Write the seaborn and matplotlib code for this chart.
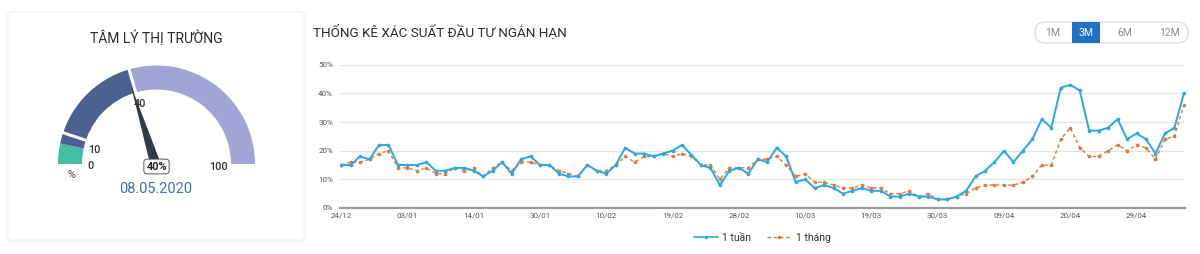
import numpy as np
import pandas as pd
import matplotlib
matplotlib.use("Agg")
import matplotlib.pyplot as plt
from matplotlib.patches import Wedge, FancyBboxPatch, Polygon, Rectangle
from matplotlib.lines import Line2D
import seaborn as sns

# ---------------- data ----------------
tick_labels = ["24/12", "03/01", "14/01", "30/01", "10/02", "19/02", "28/02",
               "10/03", "19/03", "30/03", "09/04", "20/04", "29/04"]
week = [15, 15, 18, 17, 22, 22, 15, 15, 15, 16, 13, 13, 14, 14, 13, 11, 13, 16, 12, 17,
        18, 15, 15, 12, 11, 11, 15, 13,
        12, 15, 21, 19, 19, 18, 19, 20, 22, 18.5, 15, 14, 8, 13, 14, 12, 17, 16, 21, 18,
        9, 10, 7, 8, 7, 5, 6, 7, 6, 6, 4,
        4, 5, 4, 4, 3, 3, 4, 6, 11, 13, 16, 20, 16, 20, 24, 31, 28, 42, 43, 41, 27, 27,
        28, 31, 24, 26, 24, 19, 26, 28, 40]
month = [15, 16, 16, 17, 19, 20, 14, 14, 13, 14, 12, 12, 14, 13, 14, 11, 14, 16, 13, 16,
         16, 15, 15, 13, 12, 11, 15, 13,
         13, 15, 18, 16, 18, 18, 19, 18, 19, 18, 15, 15, 10, 14, 14, 14, 17, 17, 18, 15,
         11, 12, 9, 9, 8, 7, 7, 8, 7, 7, 5,
         5, 6, 4, 5, 3, 3, 4, 5, 7, 8, 8, 8, 8, 9, 11, 15, 15, 24, 28, 21, 18, 18, 20, 22,
         20, 22, 21, 17, 24, 25, 36]
series_names = ["1 tuần", "1 tháng"]
y_ticks = [0, 10, 20, 30, 40, 50]
gauge_value = 40
gauge_band_from = [0, 6.7, 41]
gauge_band_to = [6.7, 41, 100]
gauge_band_colors = ["#43c0a3", "#4b6190", "#a1a4d4"]
gauge_separators = [10.3, 41]
gauge_labels = ["0", "10", "40", "100"]
gauge_date = "08.05.2020"
periods = ["1M", "3M", "6M", "12M"]
active_period = "3M"

# ---------------- style ----------------
sns.set_style("white")
plt.rcParams["font.family"] = ["Roboto", "DejaVu Sans"]

W, H = 1200, 254
fig = plt.figure(figsize=(W / 100, H / 100), dpi=100)
fig.patch.set_facecolor("white")

bg = fig.add_axes([0, 0, 1, 1])
bg.set_xlim(0, W)
bg.set_ylim(0, H)
bg.axis("off")


def Y(y):
    return H - y


# card with faint shadow
for i, a in enumerate([0.03, 0.02, 0.01]):
    bg.add_patch(FancyBboxPatch((8 - i, Y(240) - i - 1), 296 + 2 * i, 228 + 2 * i,
                                boxstyle="round,pad=0,rounding_size=5",
                                facecolor="none", edgecolor=(0, 0, 0, a), lw=1.2))
bg.add_patch(FancyBboxPatch((8, Y(240)), 296, 228,
                            boxstyle="round,pad=0,rounding_size=5",
                            facecolor="white", edgecolor="#f1f1f1", lw=0.8))

bg.text(156, Y(38), "TÂM LÝ THỊ TRƯỜNG", ha="center", va="center",
        fontsize=10, color="#2b2b2b")

# gauge
cx, cy = 156.5, Y(164)
r_out, width = 98.5, 24


def ang(v):
    return 180 - 1.8 * v


for f, t, c in zip(gauge_band_from, gauge_band_to, gauge_band_colors):
    bg.add_patch(Wedge((cx, cy), r_out, ang(t), ang(f), width=width,
                       facecolor=c, edgecolor="none"))
for s in gauge_separators:
    th = np.deg2rad(ang(s))
    bg.plot([cx + (r_out - width - 1) * np.cos(th), cx + (r_out + 1) * np.cos(th)],
            [cy + (r_out - width - 1) * np.sin(th), cy + (r_out + 1) * np.sin(th)],
            color="white", lw=2.2, solid_capstyle="butt")

# needle
th = np.deg2rad(ang(gauge_value))
tip = (cx + 84 * np.cos(th), cy + 84 * np.sin(th))
px, py = -np.sin(th), np.cos(th)
base_c = (cx - 2, cy + 3)
bg.add_patch(Polygon([(base_c[0] + 5 * px, base_c[1] + 5 * py), tip,
                      (base_c[0] - 5 * px, base_c[1] - 5 * py)],
                     closed=True, facecolor="#2f3a4b", edgecolor="none"))

lab_pos = [(90.7, 165.7), (94.5, 150), (139.5, 104), (218, 166.5)]
for lab, (x, y) in zip(gauge_labels, lab_pos):
    bg.text(x, Y(y), lab, ha="center", va="center", fontsize=7.8, color="#333333",
            fontweight="medium")
bg.text(71, Y(174.5), "%", ha="center", va="center", fontsize=7.8, color="#444444")
bg.text(156.5, Y(166.5), f"{gauge_value}%", ha="center", va="center", fontsize=7.8,
        fontweight="bold", color="#222222",
        bbox=dict(boxstyle="round,pad=0.22,rounding_size=0.3", facecolor="white",
                  edgecolor="#555555", lw=0.7))
bg.text(156, Y(189), gauge_date, ha="center", va="center", fontsize=10.5, color="#4a6db3")

# right title
bg.text(313, Y(32), "THỐNG KÊ XÁC SUẤT ĐẦU TƯ NGẮN HẠN", ha="left", va="center",
        fontsize=9.7, color="#2b2b2b")

# period buttons
bg.add_patch(FancyBboxPatch((1035, Y(43)), 153, 21,
                            boxstyle="round,pad=0,rounding_size=10",
                            facecolor="white", edgecolor="#dcdcdc", lw=0.9))
btn_x = [1053, 1086, 1125, 1170]
for p, x in zip(periods, btn_x):
    if p == active_period:
        bg.add_patch(Rectangle((1072, Y(43)), 28, 21, facecolor="#1f72c4", edgecolor="none"))
        bg.text(x, Y(32.5), p, ha="center", va="center", fontsize=7.5, color="white")
    else:
        bg.text(x, Y(32.5), p, ha="center", va="center", fontsize=7.5, color="#8a8a8a")

# ---------------- line chart ----------------
n = len(week)
df = pd.DataFrame({
    "idx": list(range(n)) * 2,
    "value": week + month,
    "series": [series_names[0]] * n + [series_names[1]] * n,
})

ax = fig.add_axes([340 / W, (H - 208) / H, (1185 - 340) / W, (208 - 64.7) / H])
ax.set_facecolor("none")
blue, orange = "#2aa8e0", "#e9773a"
sns.lineplot(data=df[df.series == series_names[1]], x="idx", y="value", ax=ax,
             color=orange, lw=1.0, marker="o", markersize=2.6, markeredgewidth=0,
             linestyle=(0, (2.5, 2)), legend=False, zorder=3)
sns.lineplot(data=df[df.series == series_names[0]], x="idx", y="value", ax=ax,
             color=blue, lw=1.4, marker="o", markersize=2.6, markeredgewidth=0,
             legend=False, zorder=4)

ax.set_xlim(-0.12, n - 1 + 0.12)
ax.set_ylim(0, 50)
ax.set_yticks(y_ticks)
ax.set_yticklabels([f"{v}%" for v in y_ticks])
ax.set_xticks(list(range(0, n, 7)))
ax.set_xticklabels(tick_labels)
ax.grid(axis="y", color="#e4e4e4", lw=0.9)
ax.grid(axis="x", visible=False)
for s in ["top", "right", "left"]:
    ax.spines[s].set_visible(False)
ax.spines["bottom"].set_color("#9c9c9c")
ax.spines["bottom"].set_linewidth(1.6)
ax.tick_params(axis="both", length=0, labelsize=5.8, colors="#555555")
ax.tick_params(axis="y", pad=5)
ax.tick_params(axis="x", pad=3)
ax.set_xlabel("")
ax.set_ylabel("")

handles = [
    Line2D([0], [0], color=blue, lw=1.2, marker="o", markersize=2.5, markeredgewidth=0),
    Line2D([0], [0], color=orange, lw=1.0, linestyle=(0, (2.5, 2)), marker="o",
           markersize=2.5, markeredgewidth=0),
]
fig.legend(handles, series_names, loc="center", bbox_to_anchor=(762 / W, 1 - 238 / H),
           ncol=2, frameon=False, fontsize=7.5, handlelength=2.3, handletextpad=0.4,
           columnspacing=1.6, labelcolor="#333333")

fig.savefig("out.png", dpi=100, facecolor="white")
